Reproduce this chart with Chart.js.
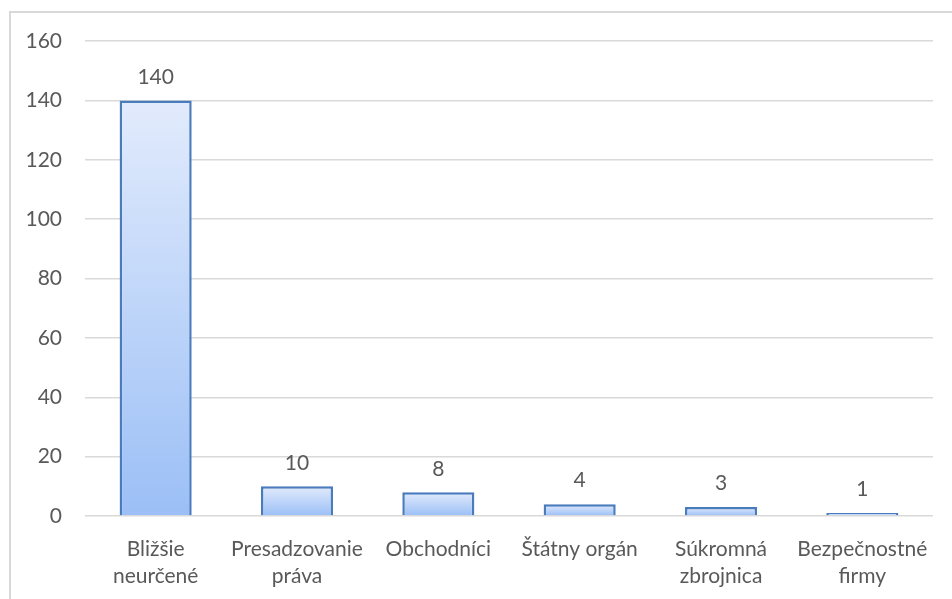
<!DOCTYPE html>
<html>
<head>
<meta charset="utf-8">
<script src="https://cdn.jsdelivr.net/npm/chart.js@4"></script>
<style>
    html, body { margin: 0; padding: 0; background: #fff; overflow: hidden; }
    #frame { position: absolute; left: 9px; top: 11px; width: 980px; height: 640px; border: 2px solid #d9d9d9; box-sizing: border-box; }
    #wrap { position: absolute; left: 0; top: 0; width: 952px; height: 599px; }
</style>
</head>
<body>
<div id="frame"></div>
<div id="wrap"><canvas id="chart"></canvas></div>
<script>
const categories = [
    ["Bližšie", "neurčené"],
    ["Presadzovanie", "práva"],
    "Obchodníci",
    "Štátny orgán",
    ["Súkromná", "zbrojnica"],
    ["Bezpečnostné", "firmy"]
];
const counts = [140, 10, 8, 4, 3, 1];
const yTicks = [0, 20, 40, 60, 80, 100, 120, 140, 160];

const textColor = "#595959";
const fontFamily = "Lato, 'Liberation Sans', sans-serif";

// value labels above every bar
const barLabels = {
    id: "barLabels",
    afterDatasetsDraw(chart) {
        const ctx = chart.ctx;
        const meta = chart.getDatasetMeta(0);
        ctx.save();
        ctx.fillStyle = textColor;
        ctx.font = "21px " + fontFamily;
        ctx.textAlign = "center";
        ctx.textBaseline = "bottom";
        meta.data.forEach((bar, i) => {
            ctx.fillText(String(counts[i]), bar.x, bar.y - 13);
        });
        ctx.restore();
    }
};

function barGradient(context) {
    const chart = context.chart;
    const y = chart.scales.y;
    if (!y || !chart.chartArea) return "#b8d1f8";
    const top = y.getPixelForValue(context.raw);
    const base = y.getPixelForValue(0);
    const g = chart.ctx.createLinearGradient(0, top, 0, base);
    g.addColorStop(0, "#e2ebfc");
    g.addColorStop(1, "#9bbff6");
    return g;
}

new Chart(document.getElementById("chart").getContext("2d"), {
    type: "bar",
    data: {
        labels: categories,
        datasets: [{
            data: counts,
            backgroundColor: barGradient,
            borderColor: "#4a7bbd",
            borderWidth: 2.5,
            borderSkipped: "bottom",
            categoryPercentage: 1,
            barPercentage: 0.51
        }]
    },
    options: {
        responsive: true,
        maintainAspectRatio: false,
        animation: false,
        layout: { padding: { top: 41, right: 19, left: 0, bottom: 0 } },
        plugins: {
            legend: { display: false },
            tooltip: { enabled: false }
        },
        scales: {
            x: {
                grid: { display: false, drawTicks: false },
                border: { display: false },
                ticks: {
                    color: textColor,
                    font: { family: fontFamily, size: 21, lineHeight: 1.29 },
                    padding: 20,
                    maxRotation: 0,
                    autoSkip: false
                },
                afterFit(scale) { scale.height = 83; }
            },
            y: {
                min: 0,
                max: 160,
                afterBuildTicks(scale) { scale.ticks = yTicks.map(v => ({ value: v })); },
                grid: { color: "#d9d9d9", lineWidth: 1.5, drawTicks: false },
                border: { display: false },
                ticks: {
                    color: textColor,
                    font: { family: fontFamily, size: 21 },
                    padding: 23
                },
                afterFit(scale) { scale.width = 85; }
            }
        }
    },
    plugins: [barLabels]
});
</script>
</body>
</html>
